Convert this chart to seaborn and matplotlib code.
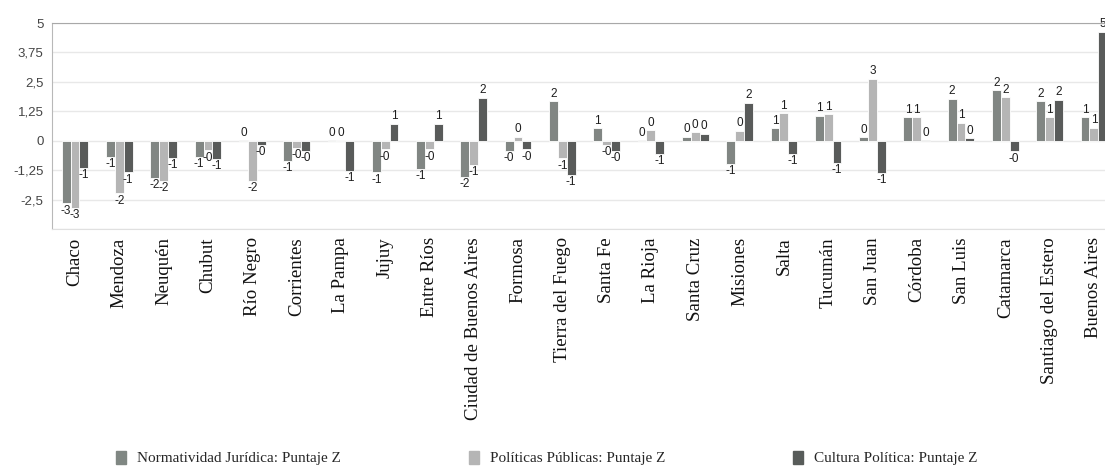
import matplotlib
matplotlib.use("Agg")
import matplotlib.pyplot as plt
import matplotlib.patches as mpatches
import seaborn as sns
import pandas as pd

provincias = ["Chaco", "Mendoza", "Neuquén", "Chubut", "Río Negro", "Corrientes",
              "La Pampa", "Jujuy", "Entre Ríos", "Ciudad de Buenos Aires", "Formosa",
              "Tierra del Fuego", "Santa Fe", "La Rioja", "Santa Cruz", "Misiones",
              "Salta", "Tucumán", "San Juan", "Córdoba", "San Luis", "Catamarca",
              "Santiago del Estero", "Buenos Aires"]

normatividad = [-2.66, -0.68, -1.57, -0.68, 0.02, -0.85, 0.03, -1.34, -1.20, -1.53, -0.42, 1.69,
                0.52, 0.03, 0.17, -0.99, 0.52, 1.06, 0.16, 1.00, 1.78, 2.15, 1.67, 1.00]
politicas = [-2.84, -2.23, -1.69, -0.40, -1.69, -0.31, 0.03, -0.37, -0.37, -1.03, 0.17, -0.75,
             -0.18, 0.45, 0.37, 0.42, 1.17, 1.12, 2.64, 1.00, 0.76, 1.85, 1.00, 0.56]
cultura = [-1.14, -1.34, -0.73, -0.78, -0.18, -0.42, -1.27, 0.73, 0.73, 1.82, -0.37, -1.45,
           -0.42, -0.56, 0.30, 1.62, -0.56, -0.95, -1.37, 0.03, 0.10, -0.45, 1.74, 4.63]

series = ["Normatividad Jurídica: Puntaje Z", "Políticas Públicas: Puntaje Z",
          "Cultura Política: Puntaje Z"]
colores = ["#808783", "#b5b5b5", "#585c5a"]

y_ticks = [-3.75, -2.5, -1.25, 0, 1.25, 2.5, 3.75, 5]
y_labels = ["", "-2,5", "-1,25", "0", "1,25", "2,5", "3,75", "5"]

df = pd.DataFrame({
    "provincia": provincias * 3,
    "serie": [series[0]] * 24 + [series[1]] * 24 + [series[2]] * 24,
    "valor": normatividad + politicas + cultura,
})

sns.set_style("white")

fig = plt.figure(figsize=(11.05, 4.68), dpi=100)
ax = fig.add_axes([52 / 1105, 1 - 229 / 468, 1 - 52 / 1105, (229 - 23) / 468])

sns.barplot(data=df, x="provincia", y="valor", hue="serie", order=provincias,
            hue_order=series, palette=colores, width=0.6, edgecolor="white",
            linewidth=0.6, ax=ax, legend=False)

# etiquetas redondeadas a entero, como en el original
for cont in ax.containers:
    ax.bar_label(cont, fmt="{:.0f}", padding=1, fontsize=8.5, color="#1e1e1e",
                 fontfamily="Liberation Sans")

ax.set_ylim(-3.75, 5)
ax.set_xlim(-0.52, 23.25)
ax.set_yticks(y_ticks)
ax.set_yticklabels(y_labels, fontfamily="Liberation Sans", fontsize=9.5, color="#444444")
ax.set_xticks(range(len(provincias)))
ax.set_xticklabels(provincias, rotation=90, fontfamily="Liberation Serif", fontsize=13.6,
                   color="#111111", va="top")
ax.tick_params(axis="both", length=0)
ax.tick_params(axis="x", pad=6)
ax.tick_params(axis="y", pad=6)
ax.set_xlabel("")
ax.set_ylabel("")

ax.grid(axis="y", color="#e8e8e8", linewidth=1)
ax.set_axisbelow(True)
ax.spines["right"].set_visible(False)
ax.spines["top"].set_color("#a8a8a8")
ax.spines["left"].set_color("#b8b8b8")
ax.spines["bottom"].set_color("#e0e0e0")

handles = [mpatches.Patch(color=c) for c in colores]
fig.legend(handles, series, loc="center", bbox_to_anchor=(0.495, 1 - 458 / 468),
           ncol=3, frameon=False, handlelength=0.65, handleheight=0.95,
           handletextpad=0.7, columnspacing=8.4,
           prop={"family": "Liberation Serif", "size": 11})

fig.savefig("out.png", dpi=100)
